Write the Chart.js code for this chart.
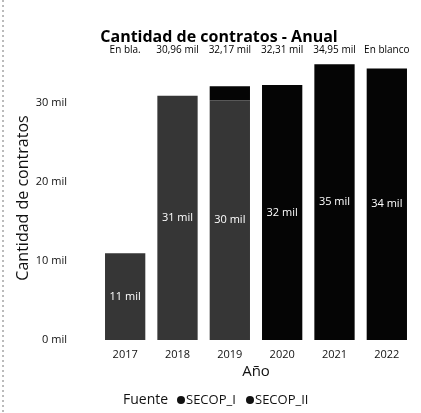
<!DOCTYPE html>
<html>
<head>
<meta charset="utf-8">
<script src="https://cdn.jsdelivr.net/npm/chart.js@4/dist/chart.umd.min.js"></script>
<style>
  html, body { margin: 0; padding: 0; background: #fff; }
  #wrap { width: 421px; height: 413px; position: relative; }
</style>
</head>
<body>
<div id="wrap"><canvas id="c"></canvas></div>
<script>
/* ─── data ─────────────────────────────────────────────────────────── */
const years = ['2017', '2018', '2019', '2020', '2021', '2022'];
const secopI = [11000, 30960, 30400, null, null, null];
const secopII = [null, null, 1770, 32310, 34950, 34400];
const topLabels = ['En bla.', '30,96 mil', '32,17 mil', '32,31 mil', '34,95 mil', 'En blanco'];
const seriesNames = ['SECOP_I', 'SECOP_II'];
const yTicks = [0, 10000, 20000, 30000];

const FONT = '"Open Sans", "Noto Sans", sans-serif';
const TXT = '#111';

/* title, top row labels, segment labels, legend */
const decor = {
    id: 'decor',
    afterDatasetsDraw(chart) {
        const { ctx } = chart;
        const x = chart.scales.x;
        ctx.save();
        ctx.textAlign = 'center';
        ctx.textBaseline = 'middle';

        ctx.fillStyle = '#000';
        ctx.font = 'bold 16px ' + FONT;
        ctx.fillText('Cantidad de contratos - Anual', 219, 37);

        ctx.font = '10px ' + FONT;
        topLabels.forEach((t, i) => ctx.fillText(t, x.getPixelForValue(i), 50));

        // labels inside the segments
        ctx.fillStyle = '#fff';
        ctx.font = '11px ' + FONT;
        chart.data.datasets.forEach((ds, di) => {
            chart.getDatasetMeta(di).data.forEach((bar, i) => {
                const v = ds.data[i];
                if (v == null || Math.abs(bar.base - bar.y) < 20) return;
                ctx.fillText(Math.round(v / 1000) + ' mil', bar.x, (bar.y + bar.base) / 2);
            });
        });

        // legend
        ctx.fillStyle = TXT;
        ctx.textAlign = 'left';
        ctx.font = '14px ' + FONT;
        ctx.fillText('Fuente', 123, 400);
        ctx.font = '13px ' + FONT;
        const lx = [181, 250];
        seriesNames.forEach((n, i) => {
            ctx.beginPath();
            ctx.arc(lx[i], 400, 4, 0, Math.PI * 2);
            ctx.fillStyle = '#111';
            ctx.fill();
            ctx.fillStyle = TXT;
            ctx.fillText(n, lx[i] + 5, 400);
        });

        // scan border on the left
        ctx.strokeStyle = '#777';
        ctx.setLineDash([2, 3]);
        ctx.beginPath();
        ctx.moveTo(3, 0);
        ctx.lineTo(3, 413);
        ctx.stroke();
        ctx.restore();
    }
};

new Chart(document.getElementById('c'), {
    type: 'bar',
    data: {
        labels: years,
        datasets: [
            { label: seriesNames[0], data: secopI, backgroundColor: '#363636' },
            { label: seriesNames[1], data: secopII, backgroundColor: '#050505' },
        ]
    },
    options: {
        animation: false,
        responsive: true,
        maintainAspectRatio: false,
        layout: { padding: { top: 56, right: 8, bottom: 28, left: 0 } },
        datasets: { bar: { categoryPercentage: 1, barPercentage: 0.77 } },
        plugins: {
            legend: { display: false },
            tooltip: { enabled: false },
        },
        scales: {
            x: {
                stacked: true,
                grid: { display: false, drawTicks: false },
                border: { display: false },
                ticks: { color: TXT, padding: 8, font: { size: 11, family: FONT } },
                title: { display: true, text: 'Año', color: TXT, padding: { top: 2, bottom: 4 }, font: { size: 15, family: FONT } },
                afterFit: s => { s.height = 45; },
            },
            y: {
                stacked: true,
                min: 0,
                max: 36000,
                grid: { display: false, drawTicks: false },
                border: { display: false },
                afterBuildTicks: s => { s.ticks = yTicks.map(v => ({ value: v })); },
                ticks: {
                    color: TXT, padding: 32, font: { size: 11, family: FONT },
                    callback: v => (v / 1000) + ' mil',
                },
                title: { display: true, text: 'Cantidad de contratos', color: TXT, padding: { top: 14, bottom: 4 }, font: { size: 16, family: FONT } },
                afterFit: s => { s.width = 99; },
            }
        }
    },
    plugins: [decor]
});
</script>
</body>
</html>
